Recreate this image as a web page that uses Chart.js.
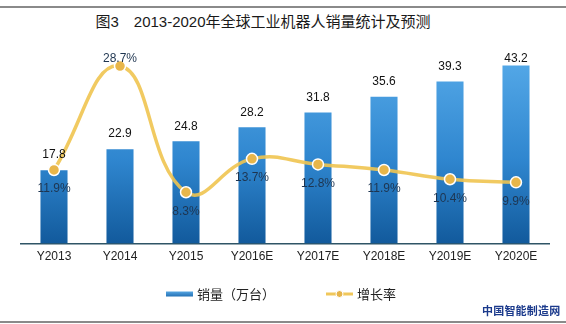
<!DOCTYPE html>
<html><head><meta charset="utf-8">
<script src="https://cdn.jsdelivr.net/npm/chart.js@4/dist/chart.umd.min.js"></script>
<style>
html,body{margin:0;padding:0;background:#fff;}
#wrap{position:relative;width:566px;height:324px;overflow:hidden;}
canvas{position:absolute;left:0;top:0;}
.hr{position:absolute;left:0;width:566px;height:2px;background:#8a8a8a;}
#title{position:absolute;left:0;width:526px;top:10px;text-align:center;font:15px "Liberation Sans","Noto Sans CJK SC",sans-serif;color:#1a1a1a;white-space:pre;}
#wm{position:absolute;left:482px;top:302px;font:bold 11px "Noto Sans CJK SC",sans-serif;color:#1b3a8c;letter-spacing:0.2px;}
</style></head><body>
<div id="wrap">
<div class="hr" style="top:6px"></div>
<div class="hr" style="top:321px"></div>
<div id="title">图3　2013-2020年全球工业机器人销量统计及预测</div>
<canvas id="c" width="566" height="324"></canvas>
<div id="wm">中国智能制造网</div>
</div>
<script>
const categories = ["Y2013","Y2014","Y2015","Y2016E","Y2017E","Y2018E","Y2019E","Y2020E"];
const sales = [17.8, 22.9, 24.8, 28.2, 31.8, 35.6, 39.3, 43.2];
const growth = [11.9, 28.7, 8.3, 13.7, 12.8, 11.9, 10.4, 9.9];
const salesLabel = "销量（万台）";
const growthLabel = "增长率";

const FONT = '"Liberation Sans", Arial, sans-serif';
function barGradient(ctx){
  const ch = ctx.chart; const a = ch.chartArea;
  if(!a) return '#2d7fc4';
  const g = ch.ctx.createLinearGradient(0, a.top, 0, a.bottom);
  g.addColorStop(0, '#55a9e8');
  g.addColorStop(0.55, '#2f86cf');
  g.addColorStop(1, '#125a9c');
  return g;
}

const labelPlugin = {
  id: 'labels',
  afterDatasetsDraw(chart){
    const c = chart.ctx; const top = chart.chartArea.top;
    c.save();
    c.font = '12px ' + FONT;
    c.textAlign = 'center'; c.textBaseline = 'middle';
    const bm = chart.getDatasetMeta(0);
    bm.data.forEach((el,i)=>{
      c.fillStyle = '#111';
      const y = Math.max(el.y - 15, top + 1);
      c.fillText(sales[i].toFixed(1), el.x, y);
    });
    const lm = chart.getDatasetMeta(1);
    lm.data.forEach((el,i)=>{
      c.fillStyle = '#1e3550';
      let y = el.y + 19;
      if (el.y - top < 12) y = top + 1;
      c.fillText(growth[i].toFixed(1) + '%', el.x, y);
    });
    c.restore();
  }
};

const legendPlugin = {
  id: 'customLegend',
  afterDraw(chart){
    const c = chart.ctx;
    c.save();
    const y = 294;
    const g = c.createLinearGradient(0, y-3, 0, y+3);
    g.addColorStop(0,'#5aaae6'); g.addColorStop(1,'#1f6cb0');
    c.fillStyle = g;
    c.fillRect(166, y-2.5, 27, 5);
    c.font = '13px "Noto Sans CJK SC", sans-serif';
    c.fillStyle = '#222'; c.textBaseline = 'middle'; c.textAlign = 'left';
    c.fillText(salesLabel, 197, y);
    c.strokeStyle = '#f0c75a'; c.lineWidth = 3;
    c.beginPath(); c.moveTo(326, y); c.lineTo(353, y); c.stroke();
    c.beginPath(); c.arc(339.5, y, 3.5, 0, Math.PI*2);
    c.fillStyle = '#e6b44a'; c.fill();
    c.strokeStyle = '#fff'; c.lineWidth = 1; c.stroke();
    c.fillStyle = '#222';
    c.fillText(growthLabel, 357, y);
    c.restore();
  }
};

new Chart(document.getElementById('c'), {
  data: {
    labels: categories,
    datasets: [
      { type:'bar', label: salesLabel, data: sales, yAxisID:'y', order:1,
        backgroundColor: barGradient, categoryPercentage:1, barPercentage:0.41 },
      { type:'line', label: growthLabel, data: growth, yAxisID:'y1', order:0,
        borderColor:'rgba(240,196,80,0.9)', borderWidth:3.5, tension:0.45,
        pointRadius:5.5, pointBackgroundColor:'#e8b64a', pointBorderColor:'#fff',
        pointBorderWidth:1.5, clip:false }
    ]
  },
  options: {
    responsive:false, animation:false, devicePixelRatio:1,
    layout:{ padding:{ left:21, right:17, top:58, bottom:54 } },
    plugins:{ legend:{display:false}, tooltip:{enabled:false}, title:{display:false} },
    scales:{
      x:{ grid:{display:false, drawTicks:false}, border:{display:true, color:'#2f5566', width:1.5},
          ticks:{ color:'#222', font:{size:12, family:FONT}, padding:6, maxRotation:0 } },
      y:{ display:false, min:0, max:45 },
      y1:{ display:false, min:0, max:30, position:'right' }
    }
  },
  plugins:[labelPlugin, legendPlugin]
});
</script>
</body></html>
